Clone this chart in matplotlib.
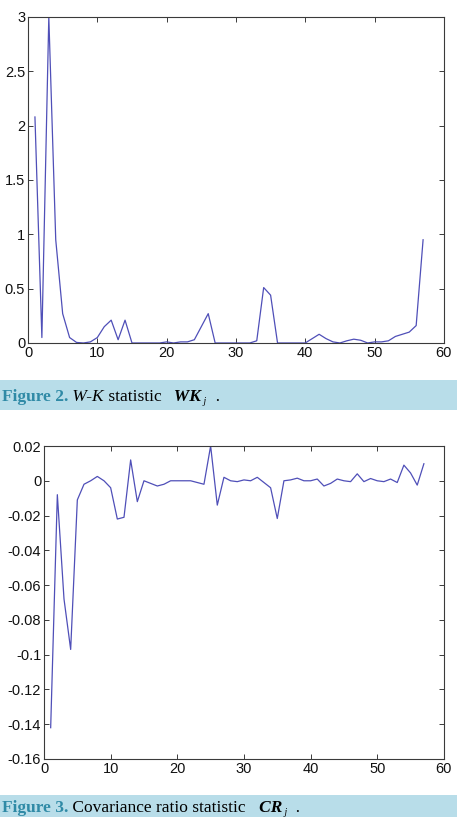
import matplotlib
matplotlib.use('Agg')
import matplotlib.pyplot as plt
from matplotlib.patches import Rectangle

plt.rcParams['font.family'] = ['Liberation Sans', 'DejaVu Sans']
plt.rcParams['axes.unicode_minus'] = False

# Figure 2: W-K statistic
wk_x = list(range(1, 58))
wk_y = [2.08, 0.05, 3.0, 0.95, 0.27, 0.05, 0.005, 0.0, 0.01, 0.05,
        0.15, 0.21, 0.03, 0.21, 0.0, 0.0, 0.0, 0.0, 0.0, 0.01,
        0.0, 0.01, 0.01, 0.03, 0.15, 0.27, 0.0, 0.0, 0.0, 0.0,
        0.0, 0.0, 0.02, 0.51, 0.44, 0.0, 0.0, 0.0, 0.0, 0.0,
        0.04, 0.08, 0.04, 0.01, 0.0, 0.02, 0.035, 0.025, 0.0, 0.01,
        0.01, 0.02, 0.06, 0.08, 0.10, 0.16, 0.95]
wk_yticks = [0, 0.5, 1, 1.5, 2, 2.5, 3]
wk_ylabels = ['0', '0.5', '1', '1.5', '2', '2.5', '3']

# Figure 3: covariance ratio statistic
cr_x = list(range(1, 58))
cr_y = [-0.142, -0.008, -0.068, -0.097, -0.011, -0.002, 0.0, 0.0025, 0.0, -0.004,
        -0.022, -0.021, 0.012, -0.012, 0.0, -0.0015, -0.003, -0.002, 0.0, 0.0,
        0.0, 0.0, -0.001, -0.002, 0.02, -0.014, 0.002, 0.0, -0.0005, 0.0005,
        0.0, 0.002, -0.001, -0.004, -0.0217, 0.0, 0.0005, 0.0015, 0.0, 0.0,
        0.001, -0.003, -0.0015, 0.001, 0.0, -0.0005, 0.004, -0.0005, 0.0013, 0.0,
        -0.0005, 0.001, -0.001, 0.009, 0.0045, -0.0025, 0.0098]
cr_yticks = [-0.16, -0.14, -0.12, -0.1, -0.08, -0.06, -0.04, -0.02, 0, 0.02]
cr_ylabels = ['-0.16', '-0.14', '-0.12', '-0.1', '-0.08', '-0.06', '-0.04', '-0.02', '0', '0.02']

xticks = [0, 10, 20, 30, 40, 50, 60]

line_color = '#4f4fb8'
bar_color = '#b8dde9'
fig_color = '#2f8aa6'

fig = plt.figure(figsize=(4.57, 8.17), dpi=100)


def style_axes(ax):
    for s in ax.spines.values():
        s.set_color('#3a3a3a')
        s.set_linewidth(0.8)
    ax.tick_params(direction='in', length=3.5, width=0.7, color='#3a3a3a',
                   top=True, right=True, labelsize=10.5, labelcolor='#111111', pad=2)


ax1 = fig.add_axes([0.0613, 0.5802, 0.910, 0.399])
ax1.plot(wk_x, wk_y, color=line_color, linewidth=0.9)
ax1.set_xlim(0, 60)
ax1.set_ylim(0, 3)
ax1.set_xticks(xticks)
ax1.set_yticks(wk_yticks)
ax1.set_yticklabels(wk_ylabels)
style_axes(ax1)

ax2 = fig.add_axes([0.0963, 0.0710, 0.875, 0.3831])
ax2.plot(cr_x, cr_y, color=line_color, linewidth=0.9)
ax2.set_xlim(0, 60)
ax2.set_ylim(-0.16, 0.02)
ax2.set_xticks(xticks)
ax2.set_yticks(cr_yticks)
ax2.set_yticklabels(cr_ylabels)
style_axes(ax2)

# caption bars
fig.patches.append(Rectangle((0, 0.498), 1, 0.0367, transform=fig.transFigure,
                             facecolor=bar_color, edgecolor='none', zorder=0))
fig.patches.append(Rectangle((0, 0.0), 1, 0.0269, transform=fig.transFigure,
                             facecolor=bar_color, edgecolor='none', zorder=0))


def build_caption(y, parts):
    # place the pieces one after another, measuring each with the renderer
    serif = ['Liberation Serif', 'DejaVu Serif']
    renderer = fig.canvas.get_renderer()
    x = 0.004
    for txt, col, w, st, size, dy in parts:
        t = fig.text(x, y + dy / 817.0, txt, color=col, fontsize=size,
                     fontweight=w, fontstyle=st, family=serif, va='baseline')
        x = t.get_window_extent(renderer).x1 / fig.bbox.width


build_caption(0.509, [
    ('Figure 2.', fig_color, 'bold', 'normal', 12.5, 0),
    (' W-K', 'black', 'normal', 'italic', 12.5, 0),
    (' statistic', 'black', 'normal', 'normal', 12.5, 0),
    ('   WK', 'black', 'bold', 'italic', 12.5, 0),
    (' j', 'black', 'normal', 'italic', 7, -3),
    ('  .', 'black', 'normal', 'normal', 12.5, 0),
])
build_caption(0.0065, [
    ('Figure 3.', fig_color, 'bold', 'normal', 12.5, 0),
    (' Covariance ratio statistic', 'black', 'normal', 'normal', 12.5, 0),
    ('   CR', 'black', 'bold', 'italic', 12.5, 0),
    (' j', 'black', 'normal', 'italic', 7, -3),
    ('  .', 'black', 'normal', 'normal', 12.5, 0),
])

plt.savefig('out.png', dpi=100)
